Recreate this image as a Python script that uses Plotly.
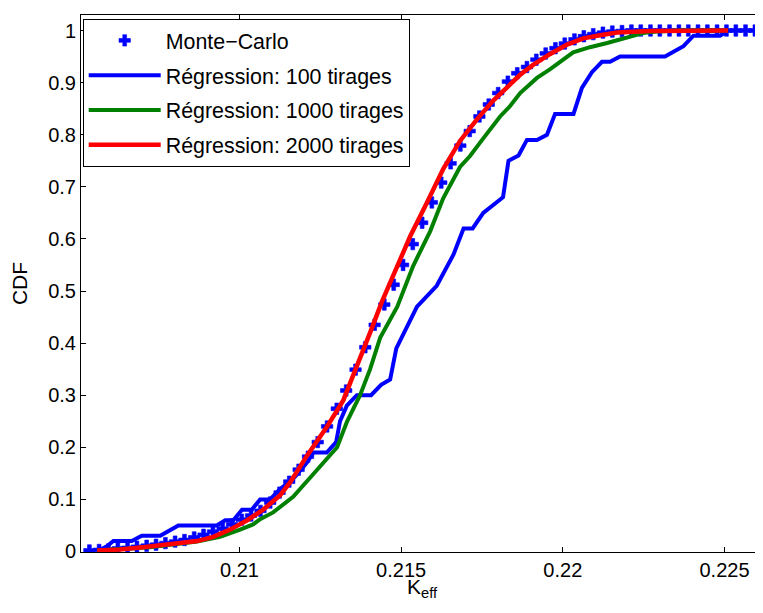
import plotly.graph_objects as go

# ---------------- data ----------------
mc_x = [0.20536, 0.20566, 0.20595, 0.20624, 0.20654, 0.20683, 0.20713, 0.20742, 0.20771, 0.20801,
        0.20830, 0.20860, 0.20889, 0.20918, 0.20948, 0.20977, 0.21007, 0.21036, 0.21065, 0.21095,
        0.21124, 0.21154, 0.21183, 0.21212, 0.21242, 0.21271, 0.21301, 0.21330, 0.21359, 0.21389,
        0.21418, 0.21448, 0.21477, 0.21506, 0.21536, 0.21565, 0.21595, 0.21624, 0.21653, 0.21683,
        0.21712, 0.21742, 0.21771, 0.21800, 0.21830, 0.21859, 0.21889, 0.21918, 0.21947, 0.21977,
        0.22006, 0.22036, 0.22065, 0.22094, 0.22124, 0.22153, 0.22183, 0.22212, 0.22241, 0.22271,
        0.22300, 0.22330, 0.22359, 0.22388, 0.22418, 0.22447, 0.22477, 0.22506, 0.22535, 0.22565,
        0.22594]
mc_cdf = [0.002, 0.003, 0.004, 0.006, 0.007, 0.009, 0.011, 0.013, 0.016, 0.019,
          0.022, 0.027, 0.032, 0.038, 0.044, 0.052, 0.061, 0.069, 0.078, 0.094,
          0.113, 0.134, 0.157, 0.182, 0.210, 0.240, 0.274, 0.309, 0.349, 0.392,
          0.435, 0.474, 0.512, 0.550, 0.590, 0.631, 0.670, 0.708, 0.745, 0.779,
          0.807, 0.835, 0.858, 0.880, 0.902, 0.918, 0.930, 0.944, 0.956, 0.966,
          0.975, 0.983, 0.989, 0.993, 0.996, 0.998, 0.999, 1.000, 1.000, 1.000,
          1.000, 1.000, 1.000, 1.000, 1.000, 1.000, 1.000, 1.000, 1.000, 1.000,
          1.000]

reg100_x = [0.20559, 0.20590, 0.20610, 0.20667, 0.20698, 0.20755, 0.20811, 0.20930, 0.20956, 0.20981,
            0.21008, 0.21038, 0.21064, 0.21095, 0.21126, 0.21167, 0.21208, 0.21229, 0.21270, 0.21299,
            0.21311, 0.21332, 0.21363, 0.21407, 0.21438, 0.21466, 0.21485, 0.21518, 0.21549, 0.21610,
            0.21662, 0.21693, 0.21721, 0.21754, 0.21796, 0.21815, 0.21832, 0.21863, 0.21889, 0.21920,
            0.21951, 0.21976, 0.22033, 0.22059, 0.22090, 0.22121, 0.22146, 0.22177, 0.22316, 0.22373,
            0.22404, 0.22486, 0.22512]
reg100_cdf = [0.00, 0.01, 0.02, 0.02, 0.03, 0.03, 0.05, 0.05, 0.06, 0.06,
              0.08, 0.08, 0.10, 0.10, 0.12, 0.14, 0.17, 0.19, 0.19, 0.21,
              0.25, 0.28, 0.30, 0.30, 0.32, 0.33, 0.39, 0.43, 0.47, 0.51,
              0.57, 0.62, 0.62, 0.65, 0.67, 0.68, 0.75, 0.76, 0.79, 0.79,
              0.80, 0.84, 0.84, 0.89, 0.92, 0.94, 0.94, 0.95, 0.95, 0.97,
              0.99, 0.99, 1.00]

reg1000_x = [0.20560, 0.20724, 0.20869, 0.20940, 0.21002, 0.21042, 0.21064, 0.21104, 0.21166, 0.21188,
             0.21228, 0.21271, 0.21302, 0.21333, 0.21373, 0.21404, 0.21435, 0.21488, 0.21537, 0.21590,
             0.21630, 0.21682, 0.21713, 0.21754, 0.21806, 0.21837, 0.21868, 0.21920, 0.21961, 0.22032,
             0.22084, 0.22137, 0.22199, 0.22248, 0.22291, 0.22362, 0.22511]
reg1000_cdf = [0.002, 0.008, 0.019, 0.028, 0.042, 0.052, 0.062, 0.075, 0.105, 0.120,
               0.150, 0.177, 0.200, 0.250, 0.300, 0.350, 0.410, 0.470, 0.548, 0.615,
               0.678, 0.738, 0.759, 0.793, 0.835, 0.855, 0.880, 0.909, 0.926, 0.958,
               0.968, 0.976, 0.987, 0.995, 0.998, 1.000, 1.000]

reg2000_x = [0.20560, 0.20631, 0.20715, 0.20817, 0.20869, 0.20919, 0.20971, 0.21024, 0.21073, 0.21126,
             0.21157, 0.21209, 0.21271, 0.21321, 0.21364, 0.21404, 0.21441, 0.21475, 0.21528, 0.21580,
             0.21630, 0.21682, 0.21735, 0.21784, 0.21828, 0.21868, 0.21908, 0.21961, 0.22013, 0.22063,
             0.22115, 0.22168, 0.22270, 0.22394, 0.22511]
reg2000_cdf = [0.002, 0.004, 0.009, 0.016, 0.020, 0.028, 0.042, 0.060, 0.080, 0.108,
               0.133, 0.184, 0.240, 0.290, 0.355, 0.420, 0.480, 0.528, 0.605, 0.670,
               0.734, 0.788, 0.830, 0.865, 0.891, 0.915, 0.934, 0.955, 0.973, 0.985,
               0.991, 0.996, 0.999, 1.000, 1.000]

x_ticks = [0.21, 0.215, 0.22, 0.225]
x_tick_labels = ["0.21", "0.215", "0.22", "0.225"]
y_ticks = [0, 0.1, 0.2, 0.3, 0.4, 0.5, 0.6, 0.7, 0.8, 0.9, 1]
y_tick_labels = ["0", "0.1", "0.2", "0.3", "0.4", "0.5", "0.6", "0.7", "0.8", "0.9", "1"]

names = ["Monte\u2212Carlo", "Régression: 100 tirages", "Régression: 1000 tirages", "Régression: 2000 tirages"]
x_title = "K<sub>eff</sub>"
y_title = "CDF"

# ---------------- figure ----------------
FONT = "Liberation Sans, Arial, Helvetica, sans-serif"

fig = go.Figure()
fig.add_trace(go.Scatter(x=mc_x, y=mc_cdf, mode="markers", name=names[0], legendgroup="g0",
                         marker=dict(symbol="cross", size=9.5, color="#0000FF",
                                     line=dict(width=0.6, color="#0000FF"))))
fig.add_trace(go.Scatter(x=reg100_x, y=reg100_cdf, mode="lines", name=names[1], legendgroup="g1",
                         line=dict(color="#0000FF", width=4)))
fig.add_trace(go.Scatter(x=reg1000_x, y=reg1000_cdf, mode="lines", name=names[2], legendgroup="g2",
                         line=dict(color="#008000", width=4)))
fig.add_trace(go.Scatter(x=reg2000_x, y=reg2000_cdf, mode="lines", name=names[3], legendgroup="g3",
                         line=dict(color="#FF0000", width=4.5)))

# the page adds an 8px body margin, so the figure is laid out 8px smaller
fig.update_layout(
    width=755, height=605,
    margin=dict(l=73, r=0, t=7, b=61),
    paper_bgcolor="white", plot_bgcolor="white",
    font=dict(family=FONT, size=20, color="black"),
    showlegend=True,
    legend=dict(x=0.0025, y=0.9926, xanchor="left", yanchor="top",
                bgcolor="white", bordercolor="black", borderwidth=1,
                font=dict(family=FONT, size=21.4, color="black"),
                itemwidth=72, tracegroupgap=4),
    xaxis=dict(range=[0.2051, 0.22619], tickvals=x_ticks, ticktext=x_tick_labels,
               showgrid=False, zeroline=False, showline=True, linecolor="black",
               linewidth=1, mirror="ticks", ticks="inside", ticklen=5,
               tickcolor="black", tickwidth=1, automargin=False),
    yaxis=dict(range=[-0.001, 1.0298], tickvals=y_ticks, ticktext=y_tick_labels,
               showgrid=False, zeroline=False, showline=True, linecolor="black",
               linewidth=1, mirror=False, ticks="inside", ticklen=5,
               tickcolor="black", tickwidth=1, automargin=False,
               title=dict(text=y_title, font=dict(size=21), standoff=14)),
    annotations=[dict(text=x_title, xref="paper", yref="paper", x=0.5, y=0,
                      xanchor="center", yanchor="top", yshift=-21, showarrow=False,
                      font=dict(family=FONT, size=21, color="black"))],
)

fig.write_html("out.html")
